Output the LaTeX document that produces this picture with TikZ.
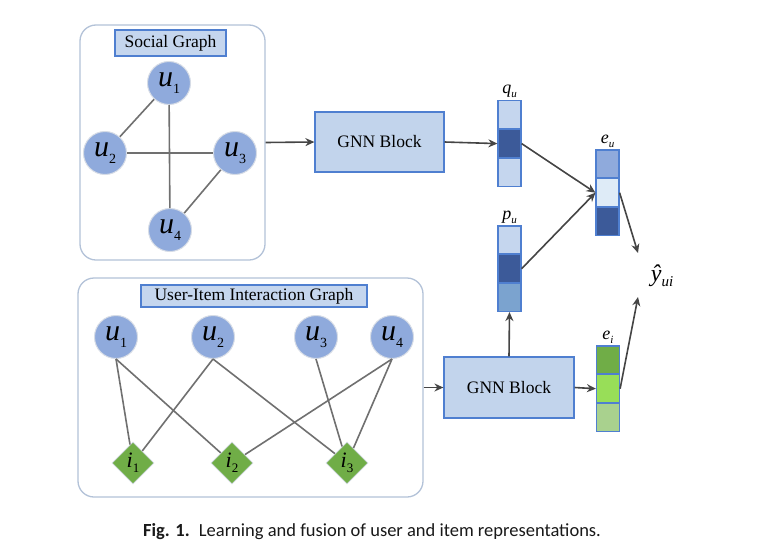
\documentclass[tikz,border=0pt]{standalone}
\usepackage{fontspec}
\setmainfont{Liberation Serif}
\newfontfamily\serifface{Liberation Serif}
\newfontfamily\capfont{Carlito}
\usepackage{xcolor}
\usetikzlibrary{positioning,arrows.meta,shapes.geometric}
\definecolor{panelEdge}{HTML}{B3C2D8}
\definecolor{tagEdge}{HTML}{4F7FD0}
\definecolor{tagFill}{HTML}{C5D6EE}
\definecolor{gnnFill}{HTML}{C2D4EC}
\definecolor{nodeEdge}{HTML}{D6DCE6}
\definecolor{userFill}{HTML}{8FAADC}
\definecolor{itemFill}{HTML}{70AD47}
\definecolor{linkGray}{HTML}{707070}
\definecolor{flowGray}{HTML}{454545}
\definecolor{cellLight}{HTML}{C5D6EE}
\definecolor{cellDark}{HTML}{3C5A99}
\definecolor{cellMid}{HTML}{7BA3CF}
\definecolor{cellSoft}{HTML}{8FAADC}
\definecolor{cellPale}{HTML}{DEEBF7}
\definecolor{greenDk}{HTML}{70AD47}
\definecolor{greenLt}{HTML}{98DE58}
\definecolor{greenPl}{HTML}{A9D18E}

% label with a lowered small index
\newcommand\withsub[3]{\textit{#1}\raisebox{-0.22em}{\fontsize{#2}{#2}\selectfont #3}}

\tikzset{
  panel/.style={draw=panelEdge, line width=1.3pt, rounded corners=16pt, inner sep=0pt},
  tag/.style={draw=tagEdge, fill=tagFill, line width=1.2pt, inner sep=0pt,
              font=\serifface\fontsize{17.5}{20}\selectfont},
  user/.style={circle, draw=nodeEdge, fill=userFill, line width=1pt,
               minimum size=43pt, inner sep=0pt, font=\serifface\fontsize{30}{30}\selectfont},
  item/.style={diamond, draw=nodeEdge, fill=itemFill, line width=0.8pt,
               minimum size=42pt, inner sep=0pt, font=\serifface\fontsize{22}{22}\selectfont},
  link/.style={draw=linkGray, line width=1.6pt},
  flow/.style={draw=flowGray, line width=1.6pt, -{Stealth[length=9pt,width=8pt]}},
  gnn/.style={draw=tagEdge, fill=gnnFill, line width=1.2pt, minimum width=129pt,
              minimum height=60pt, font=\serifface\fontsize{17.5}{20}\selectfont},
  cell/.style={draw=tagEdge, line width=1.2pt, minimum width=23pt,
               minimum height=27.7pt, inner sep=0pt},
  veclab/.style={font=\serifface\fontsize{18}{18}\selectfont, inner sep=1pt},
}

\begin{document}
\begin{tikzpicture}[x=1pt, y=-1pt]
  \path[use as bounding box, fill=white] (0,0) rectangle (767,554);

  % social graph
  \node[panel, minimum width=185pt, minimum height=235pt] (social) at (172.5,142.5) {};
  \node[tag, minimum width=111pt, minimum height=26pt] (socialtag) at (170.5,43) {Social Graph};
  \node[user] (su1) at (169,83)  {\withsub{u}{14}{1}};
  \node[user] (su2) at (105,153) {\withsub{u}{14}{2}};
  \node[user] (su3) at (235,153) {\withsub{u}{14}{3}};
  \node[user] (su4) at (170,230) {\withsub{u}{14}{4}};
  \draw[link] (su1) -- (su2);
  \draw[link] (su1) -- (su4);
  \draw[link] (su2) -- (su3);
  \draw[link] (su3) -- (su4);

  % user-item graph
  \node[panel, minimum width=345pt, minimum height=219pt] (inter) at (250.5,387.5) {};
  \node[tag, minimum width=226pt, minimum height=22pt] (intertag) at (254,296) {User-Item Interaction Graph};
  \node[user] (bu1) at (116,337) {\withsub{u}{14}{1}};
  \node[user] (bu2) at (213,337) {\withsub{u}{14}{2}};
  \node[user] (bu3) at (316,337) {\withsub{u}{14}{3}};
  \node[user] (bu4) at (392,337) {\withsub{u}{14}{4}};
  \node[item] (it1) at (133,463) {\withsub{i}{13}{1}};
  \node[item] (it2) at (232,463) {\withsub{i}{13}{2}};
  \node[item] (it3) at (347,463) {\withsub{i}{13}{3}};
  \draw[link] (bu1.south) -- (it1);
  \draw[link] (bu1.south) -- (it2);
  \draw[link] (bu2.south) -- (it1);
  \draw[link] (bu2.south) -- (it3);
  \draw[link] (bu3.south) -- (it3);
  \draw[link] (bu4.south) -- (it2);
  \draw[link] (bu4.south) -- (it3);

  % gnn blocks
  \node[gnn] (gnnA) at (379.5,142) {GNN Block};
  \node[gnn, minimum width=130pt, minimum height=61pt] (gnnB) at (509,387.5) {GNN Block};

  % embedding vectors
  \node[cell, fill=cellLight] (qu1) at (509.5,114.7) {};
  \node[cell, fill=cellDark, below=0pt of qu1] (qu2) {};
  \node[cell, fill=cellLight, below=0pt of qu2] (qu3) {};
  \node[veclab, above=1pt of qu1] {\withsub{q}{11}{\textit{u}}};

  \node[cell, fill=cellLight] (pu1) at (509.5,239.8) {};
  \node[cell, fill=cellDark, below=0pt of pu1] (pu2) {};
  \node[cell, fill=cellMid, below=0pt of pu2] (pu3) {};
  \node[veclab, above=1pt of pu1] {\withsub{p}{11}{\textit{u}}};

  \node[cell, fill=cellSoft] (eu1) at (607.5,163.8) {};
  \node[cell, fill=cellPale, below=0pt of eu1] (eu2) {};
  \node[cell, fill=cellDark, below=0pt of eu2] (eu3) {};
  \node[veclab, above=1pt of eu1] {\withsub{e}{11}{\textit{u}}};

  \node[cell, fill=greenDk] (ei1) at (608,359.8) {};
  \node[cell, fill=greenLt, below=0pt of ei1] (ei2) {};
  \node[cell, fill=greenPl, below=0pt of ei2] (ei3) {};
  \node[veclab, above=1pt of ei1] {\withsub{e}{11}{\textit{i}}};

  % prediction
  \node[font=\serifface\fontsize{24}{24}\selectfont] (yhat) at (662,276) {\withsub{ŷ}{15}{\textit{ui}}};
  \coordinate (yinU) at (638,253);
  \coordinate (yinI) at (638,297);

  % flows
  \draw[flow] (social.east) -- (gnnA.west);
  \draw[flow] (gnnA.east) -- (qu2.west);
  \draw[flow] (inter.east) -- (gnnB.west);
  \draw[flow] (gnnB.north) -- (pu3.south);
  \draw[flow] (gnnB.east) -- (ei2.west);
  \draw[flow] (qu2.east) -- (eu2.west);
  \draw[flow] (pu2.east) -- (eu2.west);
  \draw[flow] (eu2.east) -- (yinU);
  \draw[flow] (ei2.east) -- (yinI);

  % caption
  \node[font=\capfont\fontsize{18.5}{20}\selectfont, text=black!90] (caption) at (372,532)
    {\textbf{Fig. 1.}\enspace Learning and fusion of user and item representations.};
\end{tikzpicture}
\end{document}
